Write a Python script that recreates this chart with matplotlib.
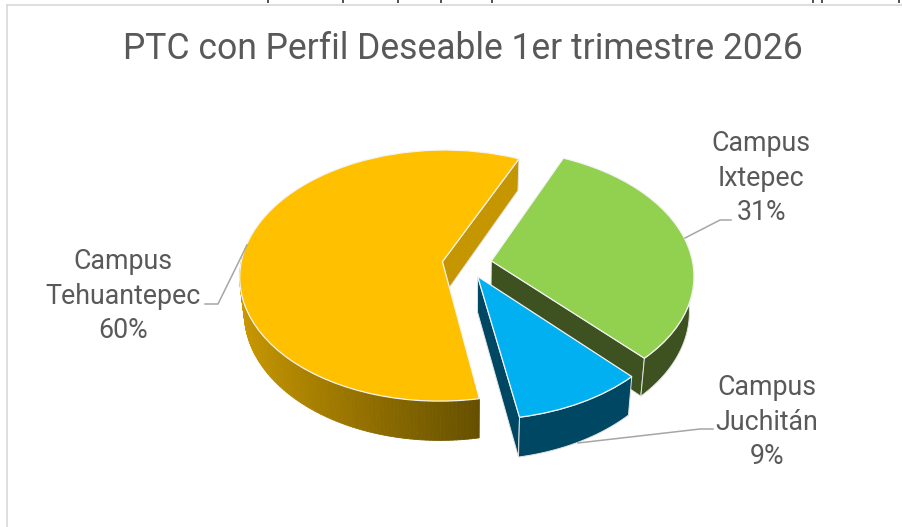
import numpy as np
import matplotlib
matplotlib.use("Agg")
import matplotlib.pyplot as plt
from matplotlib.path import Path
from matplotlib.patches import Polygon
from matplotlib.transforms import Transform
from matplotlib.colors import to_rgb

categories = ["Campus\nIxtepec", "Campus\nJuchitán", "Campus\nTehuantepec"]
values = [31.2, 9.3, 59.5]
explode = [0.123, 0.115, 0.123]
top_colors = ["#92D050", "#00B0F0", "#FFC000"]
side_colors = ["#3D5220", "#004763", "#C69600"]
title = "PTC con Perfil Deseable 1er trimestre 2026"
start_angle = 66
stroke_x = [268, 343, 398, 441, 492, 813, 822, 899]

CX, CY, R, CR, K, DEPTH, SHRINK = 467.0, 263.5, 201.5, 124.4, 0.111, 35.0, 0.98
plt.rcParams["font.family"] = ["Roboto", "DejaVu Sans"]
TEXT = "#595959"
LEADER = "#A6A6A6"


def project(xy, bottom=False):
    xy = np.asarray(xy, dtype=float).reshape(-1, 2)
    s = 1.0 / (1.0 + K * xy[:, 1])
    px = xy[:, 0] * R * s
    py = -xy[:, 1] * CR * s
    if bottom:
        px = px * SHRINK
        py = py + DEPTH * s
    return np.column_stack([CX + px, CY + py])


class Perspective(Transform):
    input_dims = output_dims = 2
    is_affine = False
    has_inverse = False

    def transform_non_affine(self, values):
        return project(values)

    def transform_path_non_affine(self, path):
        return Path(project(path.vertices), path.codes)


fig = plt.figure(figsize=(9.02, 5.27), dpi=100, facecolor="white")
ax = fig.add_axes([0, 0, 1, 1])
wedges, _ = ax.pie(values, explode=explode, startangle=start_angle,
                   counterclock=False, radius=1, frame=True)
ax.set_aspect("auto")
ax.set_xlim(0, 902)
ax.set_ylim(527, 0)
ax.axis("off")

proj = Perspective()


def rim(w, a, b, n=60):
    t = np.radians(np.linspace(a, b, n))
    return np.column_stack([w.center[0] + np.cos(t), w.center[1] + np.sin(t)])


def side(points, color, z, edge="#E4E4E4", lw=0.7):
    top = project(points)
    bot = project(points, bottom=True)
    ax.add_patch(Polygon(np.vstack([top, bot[::-1]]), closed=True, facecolor=color,
                         edgecolor=edge, linewidth=lw, zorder=z, joinstyle="round"))


def radial(w, ang, color, z):
    c = np.array(w.center)
    t = np.radians(ang)
    side(np.vstack([c, c + [np.cos(t), np.sin(t)]]), color, z)


draw_order = [4, 6, 2]
for i, w in enumerate(wedges):
    order = draw_order[i]
    t1, t2 = w.theta1, w.theta2
    radial(w, t1, side_colors[i], order)
    if i == 2:
        # gradient along the front rim of the large slice
        ts = np.linspace(t2 % 360, 172, 110)
        light, dark = np.array(to_rgb("#C99800")), np.array(to_rgb("#665000"))
        for j in range(len(ts) - 1):
            pts = rim(w, ts[j], ts[j + 1], 3)
            f = np.clip((project(pts)[1, 0] - 240) / 238.0, 0, 1) ** 0.9
            col = light + (dark - light) * f
            side(pts, col, order, edge=col, lw=0.6)
    elif i == 0:
        side(rim(w, t1, 2), side_colors[i], order)
    else:
        side(rim(w, t1, t2), side_colors[i], order)
    w.set_transform(proj + ax.transData)
    w.set_facecolor(top_colors[i])
    w.set_edgecolor("#F4F4F4")
    w.set_linewidth(0.9)
    w.set_zorder(order + 1)
    w.set_clip_on(False)

# frame of the pasted chart
ax.plot([7, 7], [527, 5], color="#D9D9D9", lw=1.2, zorder=1)
ax.plot([7, 902], [5, 5], color="#D9D9D9", lw=1.2, zorder=1)

# illegible remains of the cropped line above the chart
for x in stroke_x:
    ax.plot([x, x], [0, 3], color="#222222", lw=1.1, zorder=10, solid_capstyle="butt")

ax.text(463, 49, title, ha="center", va="center", color=TEXT, fontsize=25.6, zorder=10)

label_text = [f"{c}\n{v:.0f}%" for c, v in zip(categories, values)]
lab_pos = [(761, 178), (767, 422), (123, 296)]
for s, (x, y) in zip(label_text, lab_pos):
    ax.text(x, y, s, ha="center", va="center", color=TEXT, fontsize=19.3,
            linespacing=1.36, zorder=10)

leaders = [([685, 720, 731], [238, 220, 220]),
           ([578, 700, 713], [443, 429, 429]),
           ([247, 218, 205], [245, 304, 304])]
for lx, ly in leaders:
    ax.plot(lx, ly, color=LEADER, lw=1.1, zorder=9, solid_joinstyle="miter")

fig.savefig("out.png", dpi=100, facecolor="white")
